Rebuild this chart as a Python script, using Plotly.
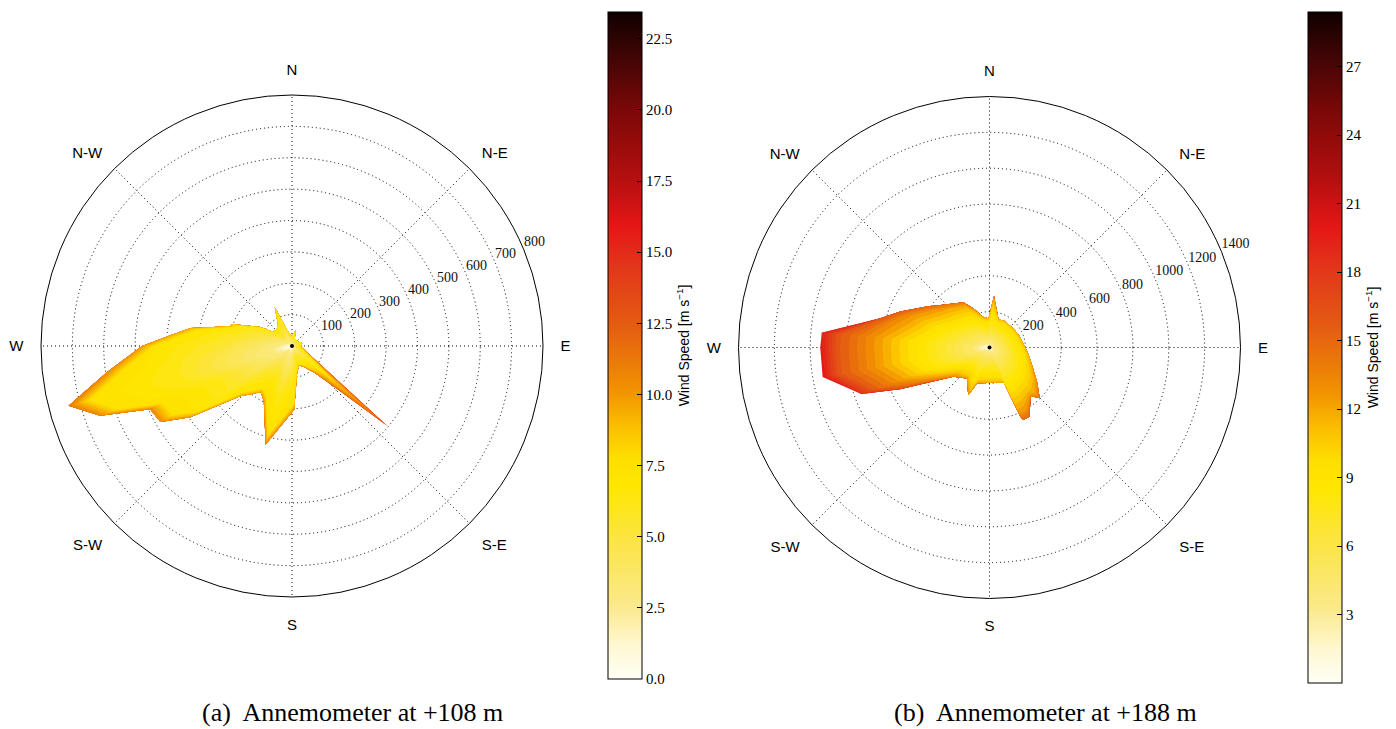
import numpy as np
import plotly.graph_objects as go

# ---------------------------------------------------------------
# Wind roses: per direction, the outline is the sample count and the
# fill colour at radius r is the wind speed reached by that share of
# the sorted samples (quantile profile per direction).
# ---------------------------------------------------------------

QUANTS = [0.0, 0.10, 0.50, 0.90, 1.00]
V_MIN = 0.3

# --- Annemometer at +108 m ---
BEARING_108 = [0, 12, 22, 45, 60, 75, 90, 100, 130, 133, 140, 150, 160, 170,
               178, 195, 207, 214, 226, 235, 240, 246, 250, 255, 262, 270,
               275, 280, 282, 288, 290, 301, 307, 318, 328, 336, 342, 351]
COUNT_108 = [30, 52, 25, 22, 25, 35, 28, 33, 401, 215, 110, 78, 65, 92,
             203, 325, 198, 178, 230, 396, 484, 495, 651, 737, 595, 478,
             389, 329, 283, 206, 204, 118, 76, 72, 86, 135, 58, 36]
P10_108 = [2.5, 2.5, 2.5, 2.5, 2.5, 2.5, 2.5, 3.0, 4.5, 4.0, 3.5, 3.0, 3.0, 3.0,
           3.0, 3.0, 3.0, 3.0, 3.0, 3.0, 3.0, 3.0, 3.0, 3.0, 3.0, 3.0,
           3.0, 3.0, 3.0, 3.0, 3.0, 3.0, 2.5, 2.5, 2.5, 3.0, 2.5, 2.5]
MED_108 = [4.5, 5.0, 4.5, 4.5, 4.5, 5.0, 5.0, 5.5, 9.0, 8.0, 6.5, 5.5, 5.5, 5.5,
           6.0, 6.0, 6.0, 5.5, 5.5, 5.5, 6.0, 6.0, 6.0, 6.0, 5.5, 5.5,
           5.5, 5.5, 5.5, 5.0, 5.0, 5.0, 5.0, 5.0, 5.0, 5.0, 5.0, 4.5]
P90_108 = [6.0, 6.5, 6.0, 6.0, 6.0, 6.5, 6.5, 7.0, 11.5, 10.5, 8.5, 7.5, 7.0, 7.0,
           7.5, 7.5, 7.5, 7.0, 7.0, 7.0, 7.5, 7.5, 7.5, 7.5, 7.5, 7.0,
           7.0, 7.0, 7.0, 6.5, 6.5, 6.5, 6.5, 6.5, 6.5, 7.0, 6.5, 6.0]
MAX_108 = [7.0, 7.5, 7.0, 7.0, 7.0, 7.5, 8.0, 9.0, 14.5, 13.0, 11.0, 10.0, 9.5, 9.5,
           10.0, 10.5, 10.0, 9.5, 9.5, 10.0, 10.5, 10.5, 10.5, 11.0, 10.5, 10.0,
           9.5, 9.5, 9.0, 9.0, 9.0, 8.5, 8.0, 8.0, 8.0, 8.5, 8.0, 7.5]
R_TICKS_108 = [100, 200, 300, 400, 500, 600, 700, 800]
CB_MAX_108 = 23.44
CB_TICKS_108 = [0.0, 2.5, 5.0, 7.5, 10.0, 12.5, 15.0, 17.5, 20.0, 22.5]

# --- Annemometer at +188 m ---
BEARING_188 = [5, 18, 29, 52, 71, 89, 100, 111, 126, 135, 140, 150, 155, 156,
               158, 170, 180, 199, 204, 216, 231, 245, 250, 260, 270, 275,
               285, 292, 303, 314, 330, 338, 348, 358]
COUNT_188 = [289, 164, 170, 171, 181, 199, 220, 252, 329, 396, 357, 446, 446, 423,
             212, 200, 197, 213, 292, 214, 259, 551, 760, 945, 944, 939,
             631, 537, 419, 346, 291, 235, 175, 162]
P10_188 = [4.0, 3.5, 3.5, 3.5, 3.5, 3.5, 3.5, 3.5, 4.0, 4.0, 4.0, 4.0, 4.0, 4.0,
           3.5, 3.5, 3.5, 3.5, 4.0, 3.5, 4.0, 4.5, 4.5, 4.5, 4.5, 4.5,
           4.5, 4.5, 4.0, 4.0, 4.0, 4.0, 3.5, 3.5]
MED_188 = [8.0, 6.5, 6.5, 6.5, 6.5, 6.5, 6.5, 6.5, 7.5, 8.0, 7.5, 8.5, 8.5, 8.5,
           7.0, 7.0, 7.0, 7.0, 7.5, 7.0, 7.5, 9.0, 9.5, 10.0, 10.0, 10.0,
           9.0, 8.5, 8.5, 8.0, 8.0, 7.5, 7.0, 6.5]
P90_188 = [11.0, 9.5, 9.5, 9.5, 9.5, 9.5, 9.5, 10.0, 11.0, 12.0, 11.0, 12.5, 12.5, 12.0,
           10.0, 10.0, 10.0, 10.5, 11.0, 10.5, 11.5, 14.5, 15.5, 16.0, 16.0, 16.0,
           13.5, 13.0, 12.5, 12.0, 11.5, 11.0, 10.0, 9.5]
MAX_188 = [13.0, 11.0, 11.0, 11.0, 11.5, 11.5, 11.5, 12.0, 13.0, 14.0, 13.0, 15.0, 15.0, 14.5,
           12.0, 12.0, 12.0, 12.5, 13.0, 12.5, 13.5, 17.0, 18.5, 20.0, 20.0, 19.5,
           16.0, 15.5, 15.0, 14.5, 14.0, 13.0, 12.0, 11.5]
R_TICKS_188 = [200, 400, 600, 800, 1000, 1200, 1400]
CB_MAX_188 = 29.4
CB_TICKS_188 = [3, 6, 9, 12, 15, 18, 21, 24, 27]

COMPASS_DEG = [0, 45, 90, 135, 180, 225, 270, 315]
COMPASS_TXT = ["N", "N-E", "E", "S-E", "S", "S-W", "W", "N-W"]
RLABEL_BEARING = 67.5
CAPTIONS = ["(a)  Annemometer at +108 m", "(b)  Annemometer at +188 m"]

# white -> yellow -> red -> black heat map
CMAP_STOPS = [0.0, 0.05, 0.11, 0.20, 0.29, 0.33, 0.38, 0.43, 0.53, 0.62, 0.68, 0.75, 0.85, 0.95, 1.0]
CMAP_HEX = ["#fffff6", "#fff8d2", "#fbe98c", "#fbe54a", "#ffe600", "#fedf00", "#fbbe00",
            "#f29400", "#e45c12", "#e2351a", "#e51616", "#b50f0f", "#7d0808", "#350404", "#100000"]

W, H = 1396, 729
SERIF = "Liberation Serif"
SANS = "Liberation Sans"


def hex_rgb(h):
    h = h.lstrip("#")
    return np.array([int(h[i:i + 2], 16) for i in (0, 2, 4)], dtype=float)


RGB = np.array([hex_rgb(c) for c in CMAP_HEX])


def heat(t):
    t = float(np.clip(t, 0, 1))
    rgb = [np.interp(t, CMAP_STOPS, RGB[:, k]) for k in range(3)]
    return "rgb(%d,%d,%d)" % tuple(int(round(v)) for v in rgb)


COLORSCALE = [[s, c] for s, c in zip(CMAP_STOPS, CMAP_HEX)]

fig = go.Figure()


def add_rose(subplot, bearing, count, p10, med, p90, vmax, step, cmax):
    b = np.asarray(bearing, float)
    n = np.asarray(count, float)
    prof = np.column_stack([np.full(len(b), V_MIN), p10, med, p90, vmax])
    top = np.ceil(max(vmax) / step) * step
    edges = np.arange(0.0, top + step / 2, step)
    # paint from the fastest band inwards so slower bands overlay
    for k in range(len(edges) - 1, 0, -1):
        upper = edges[k]
        mid = 0.5 * (edges[k] + edges[k - 1])
        q = np.array([np.interp(upper, prof[i], QUANTS) for i in range(len(b))])
        r = n * q
        if r.max() <= 0:
            continue
        fig.add_trace(go.Scatterpolar(
            r=np.append(r, r[0]), theta=np.append(b, b[0]),
            mode="lines", fill="toself", fillcolor=heat(mid / cmax),
            line=dict(width=0, color=heat(mid / cmax)),
            hoverinfo="skip", showlegend=False, subplot=subplot))


def add_scale(subplot, cmax, ticks, fmt, x0, y_top, y_bot, rticks):
    fig.add_trace(go.Scatterpolar(
        r=[0, 0], theta=[0, 0], mode="markers",
        marker=dict(size=1, color=[0, cmax], cmin=0, cmax=cmax,
                    colorscale=COLORSCALE, showscale=True, opacity=0,
                    colorbar=dict(
                        x=x0 / W, xanchor="left", xpad=0,
                        y=1 - (y_top + y_bot) / 2 / H, yanchor="middle", ypad=0,
                        len=y_bot - y_top, lenmode="pixels",
                        thickness=34, thicknessmode="pixels",
                        outlinewidth=1, outlinecolor="black",
                        tickmode="array", tickvals=ticks,
                        ticktext=[fmt.format(t) for t in ticks],
                        ticks="inside", ticklen=5, tickcolor="black",
                        tickfont=dict(family=SERIF, size=15, color="black"),
                        title=dict(text="Wind Speed [m s<sup>\u22121</sup>]", side="right",
                                   font=dict(family=SANS, size=14, color="black")))),
        hoverinfo="skip", showlegend=False, subplot=subplot))
    # radial tick labels beside each ring, along the ENE ray
    fig.add_trace(go.Scatterpolar(
        r=rticks, theta=[RLABEL_BEARING] * len(rticks), mode="text",
        text=[str(t) for t in rticks], textposition="top right",
        textfont=dict(family=SERIF, size=14, color="#111111"),
        hoverinfo="skip", showlegend=False, subplot=subplot, cliponaxis=False))
    # centre point of the rose
    fig.add_trace(go.Scatterpolar(r=[0], theta=[0], mode="markers",
                                  marker=dict(size=4, color="black"),
                                  hoverinfo="skip", showlegend=False, subplot=subplot))


add_rose("polar", BEARING_108, COUNT_108, P10_108, MED_108, P90_108, MAX_108, 0.5, CB_MAX_108)
add_scale("polar", CB_MAX_108, CB_TICKS_108, "{:.1f}", 608, 12, 679, R_TICKS_108)
add_rose("polar2", BEARING_188, COUNT_188, P10_188, MED_188, P90_188, MAX_188, 0.75, CB_MAX_188)
add_scale("polar2", CB_MAX_188, CB_TICKS_188, "{:d}", 1308, 12, 683, R_TICKS_188)


def polar_layout(cx, cy, rad, rmax, rticks):
    return dict(
        domain=dict(x=[(cx - rad) / W, (cx + rad) / W],
                    y=[1 - (cy + rad) / H, 1 - (cy - rad) / H]),
        bgcolor="white",
        angularaxis=dict(
            rotation=90, direction="clockwise",
            tickmode="array", tickvals=COMPASS_DEG, ticktext=COMPASS_TXT,
            showline=True, linecolor="black", linewidth=1,
            showgrid=True, gridcolor="black", gridwidth=1, griddash="1px,3px",
            ticks="outside", ticklen=14, tickcolor="rgba(0,0,0,0)",
            tickfont=dict(family=SANS, size=15, color="black"),
            layer="above traces"),
        radialaxis=dict(
            range=[0, rmax], tickmode="array", tickvals=rticks,
            showticklabels=False, angle=22.5,
            showline=False, ticks="",
            showgrid=True, gridcolor="black", gridwidth=1, griddash="1px,3px",
            layer="above traces"),
    )


annotations = []
for txt, cx in zip(CAPTIONS, [352, 1045]):
    annotations.append(dict(text=txt, x=cx / W, y=0.0, xref="paper", yref="paper",
                            xanchor="center", yanchor="bottom", showarrow=False,
                            font=dict(family=SERIF, size=26, color="black")))

fig.update_layout(
    width=W, height=H, margin=dict(l=0, r=0, t=0, b=0),
    paper_bgcolor="white", plot_bgcolor="white", showlegend=False,
    polar=polar_layout(292, 346, 251, 800, R_TICKS_108),
    polar2=polar_layout(989.5, 347.5, 251, 1400, R_TICKS_188),
    annotations=annotations,
)

fig.write_html("out.html")
